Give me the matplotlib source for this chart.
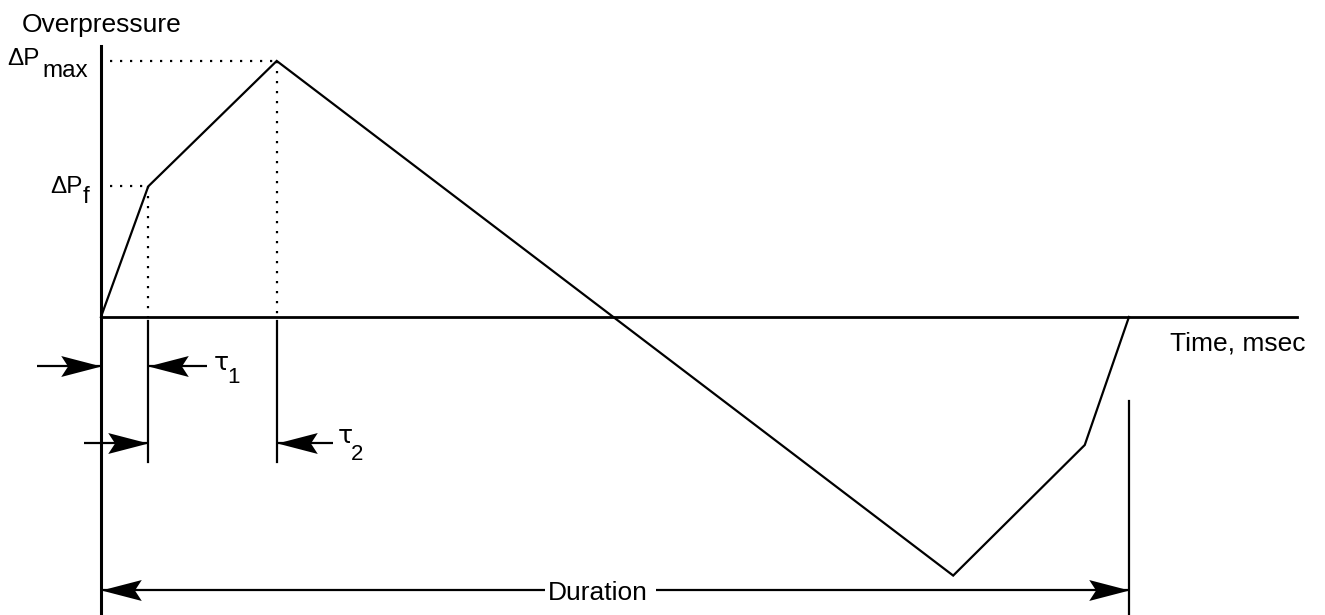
import matplotlib.pyplot as plt
from matplotlib.path import Path

# blast wave overpressure history (time in % of duration, pressure in units of dPmax)
time = [0.0, 4.6, 17.1, 82.9, 95.7, 100.0]
pressure = [0.0, 0.51, 1.0, -1.01, -0.50, 0.0]

tau1 = time[1]
tau2 = time[2]
p_f = pressure[1]
p_max = pressure[2]
duration = time[-1]

FONT = "Liberation Sans"
FS = 19
SUB = 17.5
LW = 1.6


def arrow_head(ax, x, y, direction):
    # concave filled arrowhead, tip at (x, y); direction +1 = right, -1 = left
    d = direction
    verts = [(0, 0), (-d * 1.0, 0.26), (-d * 0.83, 0), (-d * 1.0, -0.26), (0, 0)]
    codes = [Path.MOVETO, Path.LINETO, Path.LINETO, Path.LINETO, Path.CLOSEPOLY]
    ax.plot([x], [y], marker=Path(verts, codes), markersize=58,
            color="black", markeredgewidth=0, linestyle="none")


def dim_arrow(ax, x_tail, x_tip, y):
    ax.plot([x_tail, x_tip], [y, y], color="black", lw=LW, solid_capstyle="butt")
    arrow_head(ax, x_tip, y, 1 if x_tip > x_tail else -1)


fig = plt.figure(figsize=(13.25, 6.15), dpi=100)
ax = fig.add_axes([0, 0, 1, 1])
ax.set_xlim(-9.82, 119.07)
ax.set_ylim(-1.164, 1.238)
ax.axis("off")

# axes
ax.plot([0, 0], [1.06, -1.155], color="black", lw=2.2)
ax.plot([0, 116.3], [0, 0], color="black", lw=2.0)

# waveform
ax.plot(time, pressure, color="black", lw=LW, solid_joinstyle="miter")

# dotted guides
dots = (0, (1, 3.5))
ax.plot([0.9, tau2], [p_max, p_max], color="black", lw=LW, linestyle=dots)
ax.plot([0.9, tau1], [p_f, p_f], color="black", lw=LW, linestyle=dots)
ax.plot([tau1, tau1], [p_f, 0], color="black", lw=LW, linestyle=dots)
ax.plot([tau2, tau2], [p_max, 0], color="black", lw=LW, linestyle=dots)

# extension lines
ax.plot([tau1, tau1], [-0.015, -0.566], color="black", lw=LW)
ax.plot([tau2, tau2], [-0.015, -0.566], color="black", lw=LW)
ax.plot([duration, duration], [-0.33, -1.17], color="black", lw=LW)

# dimension arrows
row1, row2, row3 = -0.191, -0.492, -1.066
dim_arrow(ax, -6.2, 0, row1)
dim_arrow(ax, 10.3, tau1, row1)
dim_arrow(ax, -1.65, tau1, row2)
dim_arrow(ax, 22.6, tau2, row2)
dim_arrow(ax, 43.2, 0, row3)
dim_arrow(ax, 54.0, duration, row3)

txt = dict(family=FONT, color="black", va="baseline", ha="left")
ax.text(-7.68, 1.113, "Overpressure", fontsize=FS, **txt)
ax.text(104.0, -0.129, "Time, msec", fontsize=FS, **txt)
ax.text(48.3, -1.105, "Duration", fontsize=FS,
        **{**txt, "ha": "center"})

ax.text(-9.14, 0.984, "\u0394P", fontsize=17.5, **txt)
ax.text(-5.74, 0.9375, "max", fontsize=SUB, **txt)
ax.text(-4.96, 0.484, "\u0394P", fontsize=17.5, **txt)
ax.text(-1.75, 0.445, "f", fontsize=SUB, **txt)

greek = {**txt, "family": "DejaVu Sans"}
ax.text(11.0, -0.207, "\u03c4", fontsize=18, **greek)
ax.text(12.3, -0.258, "1", fontsize=16, **txt)
ax.text(23.05, -0.492, "\u03c4", fontsize=18, **greek)
ax.text(24.3, -0.559, "2", fontsize=16, **txt)

fig.savefig("out.png", dpi=100)
